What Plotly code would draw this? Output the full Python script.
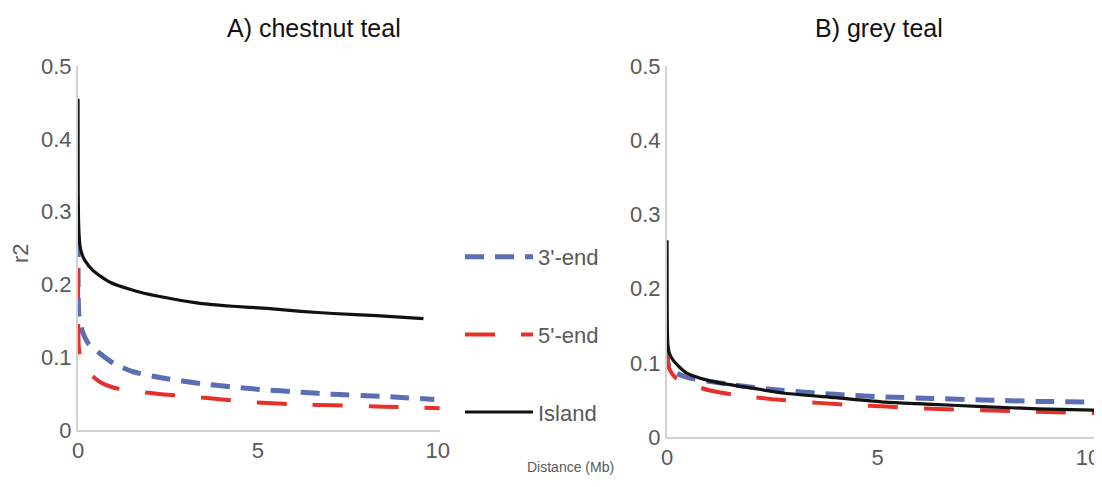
import plotly.graph_objects as go

# ---------------- data ----------------
# Panel A: chestnut teal
a_island_x = [0, 0.005, 0.02, 0.05, 0.1, 0.19, 0.42, 0.89, 1.53, 2.2, 3.39, 4.3, 5.25, 6.2, 7.1, 8.3, 9.6]
a_island_y = [0.455, 0.33, 0.28, 0.255, 0.243, 0.233, 0.219, 0.203, 0.192, 0.184, 0.174, 0.170, 0.167, 0.163, 0.160, 0.157, 0.153]

a_three_x = [0, 0.005, 0.02, 0.05, 0.14, 0.3, 0.61, 1.0, 1.53, 2.4, 3.39, 4.3, 5.25, 6.2, 7.1, 8.5, 9.9]
a_three_y = [0.264, 0.19, 0.16, 0.148, 0.133, 0.118, 0.105, 0.091, 0.080, 0.071, 0.064, 0.059, 0.055, 0.052, 0.049, 0.046, 0.042]

a_five_x = [0, 0.005, 0.02, 0.06, 0.15, 0.3, 0.61, 1.0, 1.8, 2.6, 3.6, 4.4, 5.25, 6.2, 7.1, 8.5, 10.05]
a_five_y = [0.222, 0.15, 0.115, 0.100, 0.090, 0.079, 0.066, 0.058, 0.052, 0.048, 0.044, 0.040, 0.037, 0.035, 0.034, 0.032, 0.030]

# Panel B: grey teal
b_island_x = [0, 0.005, 0.02, 0.06, 0.14, 0.3, 0.47, 0.8, 1.24, 2.0, 2.8, 4.0, 5.2, 6.3, 7.5, 8.8, 10.3]
b_island_y = [0.265, 0.16, 0.125, 0.112, 0.104, 0.094, 0.086, 0.079, 0.073, 0.066, 0.059, 0.053, 0.047, 0.044, 0.041, 0.038, 0.036]

b_three_x = [0, 0.02, 0.07, 0.23, 0.5, 1.0, 1.6, 2.5, 3.6, 4.4, 5.2, 6.3, 7.5, 8.8, 10.3]
b_three_y = [0.12, 0.10, 0.092, 0.086, 0.080, 0.075, 0.070, 0.064, 0.059, 0.056, 0.054, 0.052, 0.050, 0.048, 0.047]

b_five_x = [0, 0.02, 0.07, 0.2, 0.6, 1.0, 1.6, 2.5, 3.6, 4.4, 5.2, 6.3, 7.5, 8.8, 10.3]
b_five_y = [0.115, 0.10, 0.090, 0.080, 0.070, 0.063, 0.057, 0.051, 0.046, 0.043, 0.041, 0.038, 0.036, 0.034, 0.032]

series_names = ["3'-end", "5'-end", "Island"]
panel_titles = ["A) chestnut teal", "B) grey teal"]
x_ticks = [0, 5, 10]
y_ticks = [0, 0.1, 0.2, 0.3, 0.4, 0.5]
y_ticklabels = ["0", "0.1", "0.2", "0.3", "0.4", "0.5"]

# ---------------- styling ----------------
FONT = "Liberation Sans Narrow, Liberation Sans, Arial, sans-serif"
BLUE = "#5a6eb4"
RED = "#e8302a"
BLACK = "#111111"
GREY_TXT = "#595959"
AXIS_COL = "#d4d0d0"

fig = go.Figure()

panels = [
    ("x", "y", a_three_x, a_three_y, a_five_x, a_five_y, a_island_x, a_island_y, True),
    ("x2", "y2", b_three_x, b_three_y, b_five_x, b_five_y, b_island_x, b_island_y, False),
]
for xa, ya, tx, ty, fx, fy, ix, iy, show in panels:
    fig.add_trace(go.Scatter(x=tx, y=ty, mode="lines", name=series_names[0], xaxis=xa, yaxis=ya,
                             line=dict(color=BLUE, width=5, dash="19px,11px", shape="spline", smoothing=0.6),
                             showlegend=show, legendgroup="g1"))
    fig.add_trace(go.Scatter(x=fx, y=fy, mode="lines", name=series_names[1], xaxis=xa, yaxis=ya,
                             line=dict(color=RED, width=4, dash="30px,26px", shape="spline", smoothing=0.6),
                             showlegend=show, legendgroup="g2"))
    fig.add_trace(go.Scatter(x=ix, y=iy, mode="lines", name=series_names[2], xaxis=xa, yaxis=ya,
                             line=dict(color=BLACK, width=3.2, shape="spline", smoothing=0.6),
                             showlegend=show, legendgroup="g3"))

# The page body has an 8px margin, so the figure starts at (8, 8) in the window.
OFF = 8
W, H = 1102 - OFF, 487 - OFF
def px_x(p):
    return (p - OFF) / W
def px_y(p):
    return 1 - (p - OFF) / H

axis_common = dict(showgrid=False, zeroline=False, showline=True, linecolor=AXIS_COL, linewidth=2,
                   ticks="", automargin=False,
                   tickfont=dict(family=FONT, size=22, color=GREY_TXT), fixedrange=True)

fig.update_layout(
    width=W, height=H,
    margin=dict(l=0, r=0, t=0, b=0, autoexpand=False),
    paper_bgcolor="white", plot_bgcolor="white",
    font=dict(family=FONT, color=GREY_TXT),
    xaxis=dict(domain=[px_x(78), px_x(440)], range=[0, 10.06], tickvals=x_ticks, anchor="y", **axis_common),
    yaxis=dict(domain=[px_y(430), px_y(66)], range=[0, 0.5], tickvals=y_ticks, ticktext=y_ticklabels,
               anchor="x", **axis_common),
    xaxis2=dict(domain=[px_x(667), 1.0], range=[0, 10.33], tickvals=x_ticks, anchor="y2", **axis_common),
    yaxis2=dict(domain=[px_y(437), px_y(66)], range=[0, 0.5], tickvals=y_ticks, ticktext=y_ticklabels,
                anchor="x2", **axis_common),
    legend=dict(x=px_x(460), y=px_y(236), xanchor="left", yanchor="top",
                font=dict(family=FONT, size=22, color=GREY_TXT),
                tracegroupgap=46, itemwidth=68, bgcolor="rgba(0,0,0,0)"),
    annotations=[
        dict(text=panel_titles[0], x=px_x(314), y=px_y(28), xref="paper", yref="paper",
             xanchor="center", yanchor="middle",
             showarrow=False, font=dict(family=FONT, size=25, color="#111111")),
        dict(text=panel_titles[1], x=px_x(879), y=px_y(28), xref="paper", yref="paper",
             xanchor="center", yanchor="middle",
             showarrow=False, font=dict(family=FONT, size=25, color="#111111")),
        dict(text="r2", x=px_x(20), y=px_y(253), xref="paper", yref="paper", textangle=-90,
             xanchor="center", yanchor="middle",
             showarrow=False, font=dict(family=FONT, size=22, color=GREY_TXT)),
        dict(text="Distance (Mb)", x=px_x(570), y=px_y(467), xref="paper", yref="paper",
             xanchor="center", yanchor="middle",
             showarrow=False, font=dict(family=FONT, size=14, color=GREY_TXT)),
    ],
)

fig.write_html("out.html")
